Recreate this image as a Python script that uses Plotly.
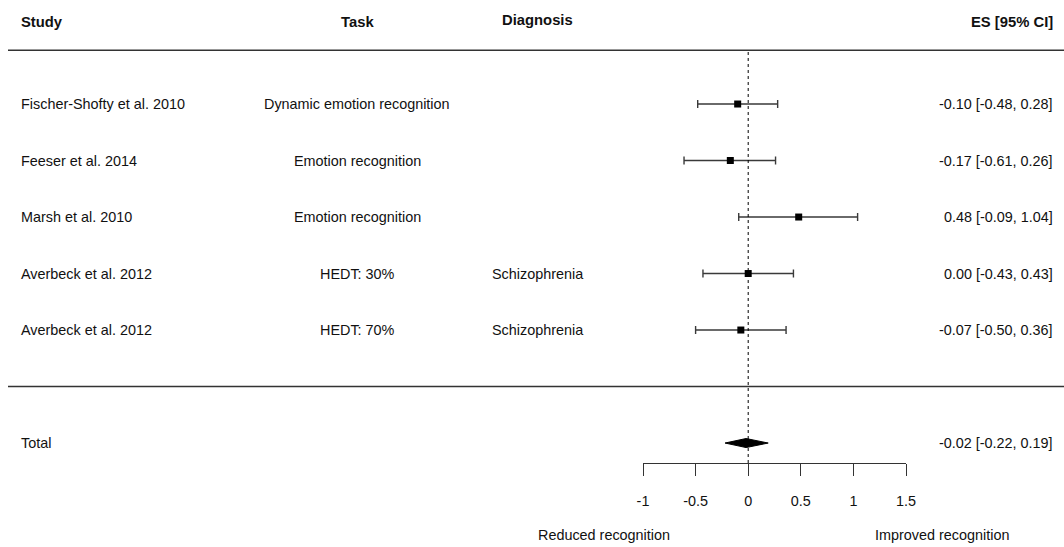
import plotly.graph_objects as go

# Study-level effect sizes with 95% confidence intervals
studies = ["Fischer-Shofty et al. 2010", "Feeser et al. 2014", "Marsh et al. 2010",
           "Averbeck et al. 2012", "Averbeck et al. 2012"]
tasks = ["Dynamic emotion recognition", "Emotion recognition", "Emotion recognition",
         "HEDT: 30%", "HEDT: 70%"]
diagnoses = ["", "", "", "Schizophrenia", "Schizophrenia"]
es = [-0.10, -0.17, 0.48, 0.00, -0.07]
ci_low = [-0.48, -0.61, -0.09, -0.43, -0.50]
ci_high = [0.28, 0.26, 1.04, 0.43, 0.36]

# Pooled estimate
total_es = -0.02
total_low = -0.22
total_high = 0.19

tick_vals = [-1, -0.5, 0, 0.5, 1, 1.5]
tick_text = ["-1", "-0.5", "0", "0.5", "1", "1.5"]

W, H = 1064, 547
FONT = "Liberation Sans, Arial, sans-serif"
TXT = "#111111"
FS = 14.4
FS_BOLD = 14.8

rows = list(range(1, len(studies) + 1))
total_row = len(studies) + 2
header_row = -0.45
label_row = 8.63


def fmt(v, lo, hi):
    return f"{v:.2f} [{lo:.2f}, {hi:.2f}]"


fig = go.Figure()

# Study estimates with CI whiskers
fig.add_trace(go.Scatter(
    x=es, y=rows, mode="markers",
    marker=dict(symbol="square", size=7, color="black"),
    error_x=dict(type="data", symmetric=False,
                 array=[h - e for h, e in zip(ci_high, es)],
                 arrayminus=[e - l for e, l in zip(es, ci_low)],
                 color="#3a3a3a", thickness=1.4, width=4),
    showlegend=False, hoverinfo="skip",
))

# Summary diamond
dh = 0.08
fig.add_trace(go.Scatter(
    x=[total_low, total_es, total_high, total_es, total_low],
    y=[total_row, total_row - dh, total_row, total_row + dh, total_row],
    mode="lines", fill="toself", fillcolor="black",
    line=dict(color="black", width=1),
    showlegend=False, hoverinfo="skip",
))

ann = []


def add_text(x_px, y, text, anchor, bold=False):
    ann.append(dict(
        x=x_px / W, xref="paper", y=y, yref="y", text=f"<b>{text}</b>" if bold else text,
        showarrow=False, xanchor=anchor, yanchor="middle",
        font=dict(family=FONT, size=FS_BOLD if bold else FS, color=TXT),
    ))


LEFT_X = 19
RIGHT_X = 1055

# Column headers
add_text(LEFT_X, header_row, "Study", "left", bold=True)
add_text(357, header_row, "Task", "center", bold=True)
add_text(537, header_row - 0.04, "Diagnosis", "center", bold=True)
add_text(RIGHT_X, header_row, "ES [95% CI]", "right", bold=True)

for r, s, t, d, v, lo, hi in zip(rows, studies, tasks, diagnoses, es, ci_low, ci_high):
    add_text(LEFT_X, r, s, "left")
    add_text(357, r, t, "center")
    if d:
        add_text(537, r, d, "center")
    add_text(RIGHT_X, r, fmt(v, lo, hi), "right")

add_text(LEFT_X, total_row, "Total", "left")
add_text(RIGHT_X, total_row, fmt(total_es, total_low, total_high), "right")

# Direction labels under the axis
add_text(604, label_row, "Reduced recognition", "center")
add_text(942, label_row, "Improved recognition", "center")

axis_y_px = 463

shapes = [
    dict(type="line", xref="paper", yref="y", x0=8 / W, x1=1, y0=0.05, y1=0.05,
         line=dict(color="#333333", width=1.5)),
    dict(type="line", xref="paper", yref="y", x0=8 / W, x1=1, y0=6, y1=6,
         line=dict(color="#333333", width=1.5)),
    dict(type="line", xref="x", yref="paper", x0=0, x1=0,
         y0=1 - axis_y_px / H, y1=1 - 52 / H,
         line=dict(color="black", width=1, dash="dot")),
]

x_lo_px, x_hi_px = 643, 906
fig.update_layout(
    width=W, height=H, margin=dict(l=0, r=0, t=0, b=0, autoexpand=False),
    paper_bgcolor="white", plot_bgcolor="white",
    annotations=ann, shapes=shapes,
    xaxis=dict(
        domain=[x_lo_px / W, x_hi_px / W], range=[-1, 1.5],
        anchor="free", position=1 - axis_y_px / H, side="bottom",
        showline=True, linecolor="#333333", linewidth=1.3,
        ticks="outside", ticklen=12, tickwidth=1.3, tickcolor="#333333",
        tickvals=tick_vals, ticktext=tick_text, ticklabelstandoff=13,
        tickfont=dict(family=FONT, size=FS, color=TXT),
        showgrid=False, zeroline=False, fixedrange=True, automargin=False,
    ),
    yaxis=dict(
        domain=[0, 1], range=[8.84, -0.841], visible=False,
        showgrid=False, zeroline=False, fixedrange=True, automargin=False,
    ),
)

fig.write_html("out.html", config={"displayModeBar": False})
